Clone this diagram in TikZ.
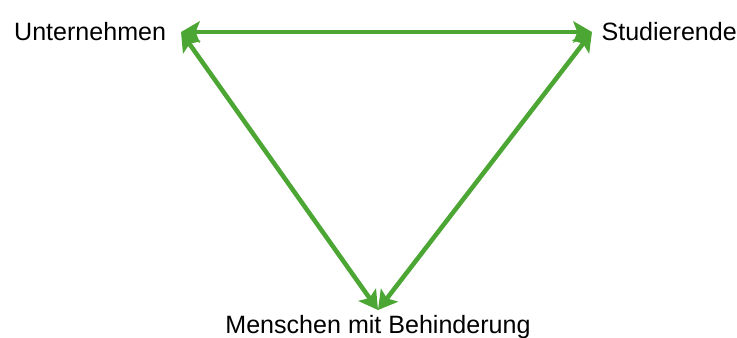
\documentclass[tikz,border=0pt]{standalone}
\usepackage{fontspec}
\setmainfont{Liberation Sans}
\usetikzlibrary{arrows.meta}
\definecolor{linkgreen}{RGB}{76,166,52}

\begin{document}
\begin{tikzpicture}[x=0.75pt, y=-0.75pt, >={Stealth[length=14pt, width=16pt, inset=3pt]}]
    \useasboundingbox (0,0) rectangle (737,337);
    \tikzset{party/.style={font=\fontsize{18.8}{23}\selectfont, inner ysep=0pt}}
    \node[party, anchor=east, inner xsep=11pt] (firm) at (181,32) {Unternehmen};
    \node[party, anchor=west, inner xsep=7pt] (student) at (592,32) {Studierende};
    \node[party, anchor=north, inner ysep=4pt] (disabled) at (378,310) {Menschen mit Behinderung};
    \draw[<->, line width=3.4pt, linkgreen] (firm.east) -- (student.west);
    \draw[<->, line width=3.4pt, linkgreen] (firm.east) -- (disabled.north);
    \draw[<->, line width=3.4pt, linkgreen] (student.west) -- (disabled.north);
  \end{tikzpicture}
\end{document}
